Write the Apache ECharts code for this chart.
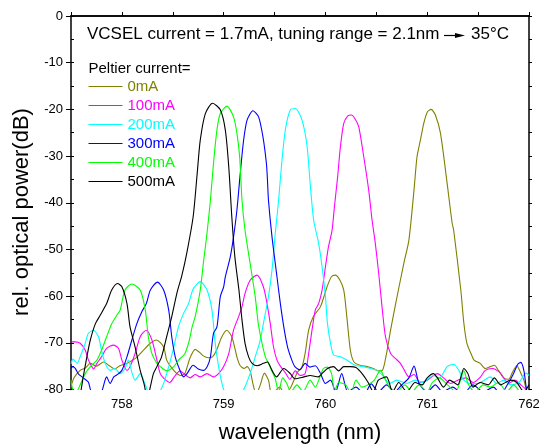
<!DOCTYPE html>
<html>
<head>
<meta charset="utf-8">
<script src="https://cdn.jsdelivr.net/npm/echarts@6/dist/echarts.min.js"></script>
<style>html,body{margin:0;padding:0;background:#fff;}#c{width:543px;height:445px;}</style>
</head>
<body>
<div id="c"></div>
<script>
// ---- data (wavelength nm, rel. power dB) ----
const seriesNames = ['0mA', '100mA', '200mA', '300mA', '400mA', '500mA'];
const xTickLabels = ['758', '759', '760', '761', '762'];
const yTickLabels = ['0', '-10', '-20', '-30', '-40', '-50', '-60', '-70', '-80'];

const p0mA = [
 [757.50,-79.4],[757.53,-77.5],[757.59,-75.9],[757.64,-75.4],[757.69,-74.4],[757.75,-75.0],[757.82,-74.1],
 [757.87,-74.8],[757.93,-75.6],[757.98,-74.9],[758.05,-74.4],[758.10,-73.8],[758.15,-73.0],[758.21,-71.6],
 [758.28,-70.1],[758.34,-69.4],[758.41,-70.9],[758.44,-73.7],[758.48,-75.1],[758.54,-76.6],[758.58,-77.0],
 [758.62,-76.5],[758.67,-73.2],[758.72,-71.4],[758.76,-72.0],[758.80,-72.8],[758.85,-73.2],[758.89,-73.0],
 [758.93,-71.6],[758.98,-68.8],[759.03,-67.3],[759.08,-68.7],[759.13,-73.0],[759.16,-74.8],[759.20,-75.5],
 [759.23,-75.1],[759.26,-76.0],[759.29,-79.0],[759.32,-81.0],[759.36,-79.0],[759.40,-76.5],[759.44,-78.0],
 [759.47,-81.0],[759.50,-80.5],[759.55,-79.5],[759.60,-81.0],[759.66,-79.5],[759.72,-76.5],[759.77,-75.1],
 [759.80,-72.3],[759.835,-67.3],[759.88,-64.4],[759.95,-62.3],[760.016,-58.0],[760.06,-55.8],[760.097,-55.5],
 [760.14,-56.5],[760.18,-58.7],[760.21,-64.4],[760.245,-71.6],[760.28,-74.1],[760.34,-74.8],[760.41,-75.1],
 [760.47,-75.5],[760.52,-76.0],[760.56,-75.9],[760.60,-72.3],[760.64,-67.3],[760.69,-61.6],[760.77,-53.0],
 [760.82,-48.0],[760.87,-37.3],[760.90,-30.1],[760.933,-26.6],[760.966,-23.0],[761.00,-20.6],[761.038,-20.0],
 [761.08,-21.2],[761.13,-25.1],[761.196,-35.9],[761.245,-44.4],[761.26,-45.9],[761.33,-58.7],[761.36,-65.8],
 [761.39,-70.1],[761.43,-72.3],[761.46,-73.7],[761.52,-74.4],[761.57,-75.5],[761.62,-75.1],[761.66,-74.8],
 [761.70,-75.9],[761.75,-77.5],[761.80,-77.8],[761.84,-76.2],[761.88,-74.9],[761.92,-76.5],[761.95,-78.0],
 [761.98,-80.5],[762.00,-81.0]
];
const p100mA = [
 [757.51,-69.8],[757.54,-69.8],[757.59,-70.1],[757.64,-71.6],[757.67,-73.6],[757.705,-75.1],[757.72,-75.6],
 [757.755,-74.4],[757.80,-73.0],[757.85,-71.2],[757.917,-70.5],[757.967,-71.2],[758.00,-73.7],[758.05,-75.9],
 [758.08,-75.1],[758.13,-72.3],[758.18,-68.7],[758.24,-67.3],[758.295,-69.4],[758.344,-73.7],[758.377,-76.6],
 [758.426,-77.9],[758.47,-78.5],[758.524,-77.0],[758.57,-76.0],[758.62,-76.8],[758.67,-77.5],[758.72,-76.8],
 [758.77,-77.3],[758.836,-76.6],[758.90,-77.3],[758.95,-76.6],[759.00,-75.1],[759.05,-72.3],[759.097,-67.3],
 [759.147,-64.4],[759.18,-62.3],[759.21,-59.4],[759.26,-56.6],[759.327,-55.5],[759.39,-58.0],[759.426,-61.6],
 [759.458,-65.9],[759.49,-70.9],[759.524,-73.7],[759.557,-75.0],[759.606,-76.4],[759.65,-77.8],[759.704,-76.0],
 [759.75,-77.0],[759.80,-76.6],[759.835,-72.3],[759.868,-67.3],[759.90,-63.0],[759.933,-61.6],[759.967,-58.7],
 [760.00,-53.7],[760.03,-49.4],[760.065,-45.9],[760.088,-40.9],[760.12,-34.4],[760.147,-28.0],[760.18,-23.0],
 [760.22,-21.4],[760.255,-21.2],[760.29,-22.0],[760.327,-23.7],[760.376,-30.1],[760.425,-37.3],[760.458,-43.7],
 [760.49,-48.7],[760.523,-55.1],[760.556,-62.3],[760.59,-68.7],[760.64,-72.3],[760.69,-73.4],[760.736,-74.4],
 [760.776,-75.9],[760.82,-77.3],[760.87,-76.8],[760.93,-78.5],[761.00,-78.0],[761.05,-77.2],[761.10,-76.6],
 [761.16,-77.5],[761.23,-78.7],[761.30,-78.0],[761.38,-77.5],[761.45,-78.5],[761.52,-77.4],[761.57,-75.9],
 [761.64,-75.5],[761.72,-76.5],[761.80,-78.7],[761.86,-78.0],[761.92,-79.0],[762.00,-80.5]
];
const p200mA = [
 [757.50,-74.5],[757.52,-73.5],[757.56,-74.4],[757.59,-73.0],[757.64,-70.1],[757.67,-68.0],[757.72,-67.3],
 [757.77,-68.7],[757.80,-71.6],[757.836,-74.4],[757.885,-75.9],[757.93,-75.5],[757.983,-76.6],[758.03,-75.5],
 [758.065,-73.7],[758.10,-76.5],[758.13,-78.0],[758.18,-76.6],[758.23,-79.0],[758.27,-81.0],[758.32,-81.5],
 [758.37,-80.5],[758.41,-78.7],[758.46,-75.1],[758.51,-70.9],[758.556,-66.6],[758.606,-63.7],[758.655,-61.6],
 [758.70,-58.5],[758.77,-56.9],[758.836,-58.7],[758.885,-63.0],[758.917,-70.1],[758.95,-75.1],[758.983,-78.7],
 [759.01,-80.5],[759.05,-81.5],[759.12,-81.5],[759.18,-80.5],[759.21,-79.4],[759.26,-76.6],[759.31,-73.0],
 [759.36,-69.4],[759.39,-65.9],[759.44,-60.1],[759.475,-54.4],[759.507,-46.6],[759.54,-39.4],[759.57,-31.6],
 [759.606,-24.4],[759.655,-20.1],[759.704,-19.8],[759.77,-22.3],[759.82,-28.0],[759.85,-35.9],[759.884,-43.7],
 [759.933,-48.7],[759.967,-53.7],[760.00,-60.1],[760.02,-65.9],[760.05,-70.1],[760.08,-72.6],[760.147,-73.0],
 [760.21,-73.7],[760.29,-74.8],[760.375,-75.1],[760.44,-75.5],[760.51,-75.9],[760.57,-77.2],[760.63,-78.7],
 [760.70,-78.0],[760.80,-78.7],[760.88,-78.0],[760.96,-78.5],[761.06,-77.0],[761.12,-77.5],[761.196,-75.1],
 [761.26,-74.6],[761.31,-75.9],[761.36,-78.0],[761.42,-78.7],[761.50,-78.7],[761.56,-78.0],[761.62,-77.3],
 [761.68,-78.7],[761.75,-78.0],[761.82,-79.0],[761.90,-78.5],[761.97,-76.5],[762.00,-77.0]
];
const p300mA = [
 [757.50,-75.5],[757.51,-75.1],[757.54,-75.4],[757.57,-76.6],[757.62,-77.5],[757.67,-78.4],[757.70,-80.5],
 [757.75,-81.0],[757.80,-80.5],[757.85,-77.3],[757.885,-78.7],[757.92,-77.3],[757.95,-76.9],[758.00,-75.9],
 [758.05,-73.0],[758.098,-69.4],[758.147,-65.9],[758.197,-63.3],[758.24,-61.6],[758.28,-58.7],[758.35,-57.0],
 [758.41,-58.7],[758.46,-63.0],[758.49,-68.7],[758.524,-73.0],[758.556,-75.1],[758.606,-77.3],[758.64,-76.6],
 [758.70,-74.8],[758.75,-75.6],[758.80,-75.9],[758.84,-75.0],[758.87,-73.0],[758.90,-68.0],[758.934,-66.6],
 [758.967,-60.1],[759.00,-58.0],[759.016,-55.9],[759.065,-51.6],[759.097,-47.3],[759.13,-41.6],[759.163,-33.7],
 [759.196,-26.6],[759.23,-22.3],[759.288,-20.3],[759.343,-21.6],[759.386,-25.9],[759.42,-31.6],[759.43,-35.0],
 [759.44,-39.4],[759.475,-47.3],[759.524,-55.9],[759.557,-61.6],[759.596,-67.3],[759.628,-70.9],[759.67,-73.7],
 [759.70,-75.1],[759.75,-75.8],[759.80,-74.4],[759.85,-75.2],[759.90,-74.9],[759.95,-76.5],[760.00,-78.7],
 [760.05,-78.0],[760.10,-80.5],[760.16,-76.6],[760.22,-80.5],[760.30,-79.5],[760.38,-81.0],[760.45,-78.8],
 [760.52,-80.5],[760.60,-79.0],[760.68,-80.5],[760.75,-79.0],[760.82,-77.5],[760.87,-75.0],[760.92,-78.7],
 [761.00,-80.5],[761.08,-79.0],[761.15,-80.5],[761.25,-79.5],[761.35,-81.0],[761.45,-79.0],[761.55,-80.5],
 [761.65,-79.5],[761.72,-81.0],[761.80,-78.5],[761.85,-76.5],[761.89,-74.6],[761.92,-74.2],[761.95,-76.0],
 [761.98,-80.5],[762.00,-81.0]
];
const p400mA = [
 [757.50,-78.0],[757.51,-79.4],[757.54,-81.0],[757.57,-80.0],[757.59,-79.0],[757.64,-76.6],[757.69,-75.1],
 [757.755,-73.7],[757.80,-71.6],[757.85,-68.7],[757.90,-65.9],[757.95,-64.1],[757.983,-63.0],[758.03,-58.7],
 [758.098,-57.4],[758.18,-58.7],[758.23,-63.0],[758.26,-68.7],[758.295,-72.3],[758.344,-74.4],[758.377,-75.1],
 [758.44,-76.0],[758.51,-75.1],[758.556,-73.7],[758.59,-73.0],[758.62,-72.3],[758.655,-70.1],[758.67,-68.7],
 [758.69,-66.6],[758.72,-64.4],[758.77,-58.7],[758.80,-53.0],[758.836,-46.6],[758.87,-39.4],[758.90,-31.6],
 [758.934,-24.4],[758.967,-20.9],[759.032,-19.3],[759.097,-21.6],[759.13,-25.1],[759.157,-30.1],[759.18,-39.4],
 [759.21,-45.9],[759.26,-53.0],[759.31,-60.1],[759.34,-65.9],[759.377,-70.1],[759.41,-73.0],[759.44,-74.4],
 [759.47,-75.9],[759.507,-77.7],[759.54,-80.5],[759.58,-77.5],[759.62,-78.7],[759.66,-80.5],[759.72,-79.0],
 [759.78,-80.5],[759.85,-78.0],[759.90,-79.5],[759.95,-77.0],[759.98,-75.5],[760.02,-75.2],[760.06,-76.6],
 [760.09,-80.5],[760.13,-78.5],[760.20,-79.0],[760.25,-81.0],[760.30,-78.0],[760.36,-79.5],[760.42,-79.0],
 [760.48,-78.0],[760.54,-75.9],[760.58,-77.5],[760.63,-79.5],[760.70,-80.5],[760.78,-79.0],[760.85,-80.5],
 [760.92,-79.0],[761.00,-80.5],[761.05,-78.5],[761.12,-77.5],[761.20,-79.0],[761.28,-80.5],[761.36,-76.0],
 [761.40,-78.7],[761.47,-80.5],[761.55,-79.0],[761.62,-79.5],[761.70,-78.5],[761.78,-80.5],[761.85,-79.0],
 [761.92,-80.5],[762.00,-80.5]
];
const p500mA = [
 [757.50,-83.0],[757.58,-82.0],[757.60,-80.0],[757.62,-77.3],[757.656,-73.0],[757.69,-69.4],[757.74,-65.9],
 [757.787,-64.1],[757.85,-61.6],[757.90,-58.7],[757.957,-57.3],[758.00,-58.0],[758.05,-61.6],[758.08,-66.6],
 [758.13,-70.9],[758.18,-75.9],[758.22,-79.0],[758.25,-82.0],[758.28,-79.4],[758.31,-76.6],[758.344,-75.1],
 [758.39,-73.0],[758.44,-68.7],[758.49,-64.4],[758.54,-59.4],[758.59,-55.5],[758.64,-50.5],[758.70,-43.0],
 [758.74,-33.7],[758.77,-26.6],[758.82,-20.9],[758.891,-18.7],[758.967,-20.1],[759.016,-24.4],[759.05,-32.3],
 [759.08,-43.0],[759.11,-51.6],[759.15,-58.7],[759.18,-65.1],[759.21,-70.1],[759.245,-73.0],[759.28,-74.4],
 [759.33,-74.9],[759.39,-74.4],[759.43,-74.1],[759.475,-75.9],[759.52,-77.3],[759.59,-75.5],[759.655,-76.6],
 [759.70,-77.7],[759.79,-77.3],[759.85,-77.0],[759.93,-77.3],[759.97,-76.5],[760.02,-75.5],[760.08,-75.1],
 [760.13,-76.0],[760.18,-75.1],[760.245,-75.1],[760.30,-75.3],[760.36,-76.6],[760.42,-78.5],[760.47,-80.5],
 [760.52,-78.0],[760.60,-77.3],[760.66,-80.5],[760.72,-78.5],[760.80,-80.5],[760.88,-78.5],[760.95,-79.0],
 [761.00,-77.5],[761.06,-76.6],[761.10,-77.5],[761.16,-79.5],[761.22,-78.0],[761.30,-79.0],[761.36,-75.5],
 [761.40,-76.6],[761.45,-79.5],[761.52,-78.5],[761.60,-79.0],[761.66,-77.5],[761.72,-79.0],[761.82,-78.0],
 [761.88,-78.5],[761.95,-80.5],[762.00,-79.0]
];
const seriesData = [p0mA, p100mA, p200mA, p300mA, p400mA, p500mA];

// ---- styling ----
const colors = ['#808000', '#ff00ff', '#00ffff', '#0000ff', '#00ff00', '#000000'];
const FONT = '"Liberation Sans", Arial, Helvetica, sans-serif';

const chart = echarts.init(document.getElementById('c'), null, {renderer: 'canvas'});

const axisLineStyle = {show: true, lineStyle: {color: '#000', width: 1.5}};
const option = {
  animation: false,
  backgroundColor: '#fff',
  grid: {left: 71, right: 14, top: 16, bottom: 55.5, containLabel: false},
  xAxis: [
    {
      type: 'value', min: 757.5, max: 762, interval: 0.5, position: 'bottom',
      axisLine: axisLineStyle,
      axisTick: {show: true, inside: true, length: 4, lineStyle: {color: '#000', width: 1}},
      splitLine: {show: false},
      axisLabel: {
        color: '#000', fontSize: 13, fontFamily: FONT, margin: 8,
        formatter: v => {
          const s = String(Math.round(v));
          return (Math.abs(v - Math.round(v)) < 1e-6 && xTickLabels.indexOf(s) >= 0) ? s : '';
        }
      }
    },
    {
      type: 'value', min: 757.5, max: 762, interval: 0.5, position: 'top',
      axisLine: axisLineStyle,
      axisTick: {show: true, inside: false, length: 3, lineStyle: {color: '#000', width: 1}},
      axisLabel: {show: false}, splitLine: {show: false}
    }
  ],
  yAxis: [
    {
      type: 'value', min: -80, max: 0, interval: 10, position: 'left',
      axisLine: axisLineStyle,
      axisTick: {show: true, inside: false, length: 5, lineStyle: {color: '#000', width: 1}},
      splitLine: {show: false},
      axisLabel: {
        color: '#000', fontSize: 13, fontFamily: FONT, margin: 8,
        formatter: v => { const s = String(Math.round(v)); return yTickLabels.indexOf(s) >= 0 ? s : ''; }
      }
    },
    {
      type: 'value', min: -80, max: 0, interval: 5, position: 'left',
      axisLine: {show: false},
      axisTick: {show: true, inside: true, length: 3, lineStyle: {color: '#000', width: 1}},
      axisLabel: {show: false}, splitLine: {show: false}
    },
    {
      type: 'value', min: -80, max: 0, interval: 5, position: 'right',
      axisLine: axisLineStyle,
      axisTick: {show: true, inside: false, length: 3, lineStyle: {color: '#000', width: 1}},
      axisLabel: {show: false}, splitLine: {show: false}
    }
  ],
  legend: {
    orient: 'vertical', left: 88.5, top: 79, padding: 0,
    itemWidth: 34, itemHeight: 1.2, itemGap: 4, icon: 'rect',
    selectedMode: false,
    textStyle: {fontSize: 15, fontFamily: FONT},
    data: seriesNames.map((n, i) => ({name: n, textStyle: {color: colors[i]}}))
  },
  series: seriesNames.map((n, i) => ({
    name: n, type: 'line', xAxisIndex: 0, yAxisIndex: 0,
    data: seriesData[i], symbol: 'none', smooth: 0.25, clip: true,
    lineStyle: {color: colors[i], width: 1.1},
    itemStyle: {color: colors[i]},
    emphasis: {disabled: true}
  })),
  graphic: [
    {type: 'text', left: 87, top: 26, style: {text: 'VCSEL current = 1.7mA, tuning range = 2.1nm', fontSize: 17, fontFamily: FONT, fill: '#000'}},
    {type: 'line', shape: {x1: 444, y1: 35.5, x2: 457, y2: 35.5}, style: {stroke: '#000', lineWidth: 1.2}},
    {type: 'polygon', shape: {points: [[455, 33], [465, 35.5], [455, 38]]}, style: {fill: '#000'}},
    {type: 'text', left: 471, top: 26, style: {text: '35°C', fontSize: 17, fontFamily: FONT, fill: '#000'}},
    {type: 'text', left: 88.5, top: 61, style: {text: 'Peltier current=', fontSize: 15, fontFamily: FONT, fill: '#000'}},
    {type: 'text', x: 22, y: 212, rotation: Math.PI / 2,
     style: {text: 'rel. optical power(dB)', fontSize: 22, fontFamily: FONT, fill: '#000', align: 'center', verticalAlign: 'middle'}},
    {type: 'text', x: 300, y: 433,
     style: {text: 'wavelength (nm)', fontSize: 22, fontFamily: FONT, fill: '#000', align: 'center', verticalAlign: 'middle'}}
  ]
};
chart.setOption(option);
</script>
</body>
</html>
